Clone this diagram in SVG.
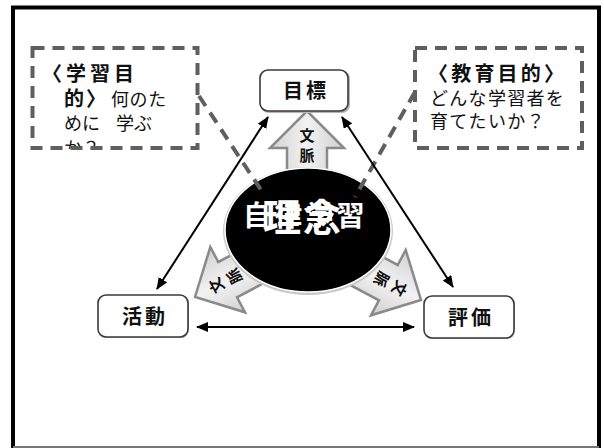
<svg xmlns="http://www.w3.org/2000/svg" width="604" height="448" viewBox="0 0 604 448">
<style>
.cjk{font-family:"Noto Sans CJK JP","Noto Sans CJK SC",sans-serif}
.b{font-weight:700}
.node rect.face{fill:#fff;stroke:#3a3a3a;stroke-width:1.6}
.node rect.shadow{fill:#b5b5b5}
.nodetxt{font-size:20px;font-weight:700;fill:#111;text-anchor:middle;letter-spacing:3px}
.dashbox{fill:none;stroke:#5f5f5f;stroke-width:4;stroke-dasharray:12 8}
.dashline{stroke:#5f5f5f;stroke-width:4;stroke-dasharray:12 8;fill:none}
.conn{stroke:#000;stroke-width:2;fill:none}
.barrow{fill:url(#ag);stroke:#8a8a8a;stroke-width:2.5;stroke-linejoin:miter}
.atxt{font-size:15px;font-weight:700;fill:#111;text-anchor:middle}
</style>
<defs>
<marker id="ah" markerUnits="userSpaceOnUse" markerWidth="12" markerHeight="10" refX="11" refY="5" orient="auto-start-reverse">
<path d="M0,0 L12,5 L0,10 z" fill="#000"/>
</marker>
<linearGradient id="ag" x1="0" y1="0" x2="1" y2="0">
<stop offset="0" stop-color="#d2d2d2"/>
<stop offset="0.5" stop-color="#f2f2f2"/>
<stop offset="1" stop-color="#cfcfcf"/>
</linearGradient>
<clipPath id="lclip"><rect x="30" y="40" width="170" height="109"/></clipPath>
<polygon id="arrowshape" points="0,0 37,37 20,37 20,100 -20,100 -20,37 -37,37"/>
</defs>

<g id="frame">
<rect x="13" y="7.5" width="586" height="442" fill="#fff"/>
<path d="M13,449 L13,7.5 L599,7.5 L599,449" fill="none" stroke="#000" stroke-width="4"/>
<line x1="13" y1="447" x2="599" y2="447" stroke="#777" stroke-width="2"/>
</g>

<g id="context-arrows">
<g id="arrow-up" transform="translate(307,111)">
<use href="#arrowshape" class="barrow"/>
<text class="cjk atxt"><tspan x="0" y="30">文</tspan><tspan x="0" y="50">脈</tspan></text>
</g>
<g id="arrow-left" transform="translate(195,297) rotate(-118)">
<use href="#arrowshape" class="barrow"/>
<text class="cjk atxt"><tspan x="0" y="30">文</tspan><tspan x="0" y="50">脈</tspan></text>
</g>
<g id="arrow-right" transform="translate(421,300) rotate(118)">
<use href="#arrowshape" class="barrow"/>
<text class="cjk atxt"><tspan x="0" y="30">文</tspan><tspan x="0" y="50">脈</tspan></text>
</g>
</g>

<g id="center">
<ellipse cx="308" cy="231" rx="85" ry="64" fill="#c8c8c8"/>
<ellipse cx="308" cy="230" rx="83" ry="62" fill="#000" stroke="#fff" stroke-width="1.5"/>
</g>

<g id="dashed-links">
<line class="dashline" x1="199" y1="96" x2="265" y2="196"/>
<line class="dashline" x1="415" y1="92" x2="355" y2="197"/>
</g>

<g id="center-text">
<text class="cjk b" fill="#fff"><tspan x="243" y="226" font-size="28" letter-spacing="3.2">自律学習</tspan><tspan x="263" y="231" font-size="38" letter-spacing="2">理念</tspan></text>
</g>

<g id="connectors">
<line class="conn" x1="268" y1="117" x2="157" y2="289" marker-start="url(#ah)" marker-end="url(#ah)"/>
<line class="conn" x1="342" y1="117" x2="453" y2="287" marker-start="url(#ah)" marker-end="url(#ah)"/>
<line class="conn" x1="197" y1="327" x2="414" y2="327" marker-start="url(#ah)" marker-end="url(#ah)"/>
</g>

<g id="node-goal" class="node">
<rect class="shadow" x="261" y="71" width="89" height="42" rx="8"/>
<rect class="face" x="260" y="70" width="88" height="41" rx="8"/>
<text class="cjk nodetxt" x="306" y="98">目標</text>
</g>
<g id="node-activity" class="node">
<rect class="shadow" x="99" y="296" width="90" height="42" rx="8"/>
<rect class="face" x="98" y="295" width="90" height="42" rx="8"/>
<text class="cjk nodetxt" x="145" y="324">活動</text>
</g>
<g id="node-eval" class="node">
<rect class="shadow" x="425" y="297" width="90" height="42" rx="8"/>
<rect class="face" x="424" y="296" width="90" height="42" rx="8"/>
<text class="cjk nodetxt" x="471" y="325">評価</text>
</g>

<g id="box-learning-purpose">
<g clip-path="url(#lclip)">
<text class="cjk" fill="#111" font-size="18"><tspan class="b" x="42" y="81" font-size="20" letter-spacing="4">〈学習目</tspan><tspan class="b" x="64" y="106" font-size="20" letter-spacing="2">的〉</tspan><tspan x="111" y="106" letter-spacing="0.6">何のた</tspan><tspan x="64" y="130">めに</tspan><tspan x="116" y="130">学ぶ</tspan><tspan x="64" y="155">か？</tspan></text>
</g>
<rect class="dashbox" x="32.5" y="48" width="165" height="100"/>
</g>

<g id="box-education-purpose">
<text class="cjk" fill="#111" font-size="18"><tspan class="b" x="428" y="81" font-size="20" letter-spacing="3.2">〈教育目的〉</tspan><tspan x="430" y="105" letter-spacing="1.3">どんな学習者を</tspan><tspan x="430" y="128" letter-spacing="1.3">育てたいか？</tspan></text>
<rect class="dashbox" x="415" y="48" width="167" height="100"/>
</g>
</svg>
